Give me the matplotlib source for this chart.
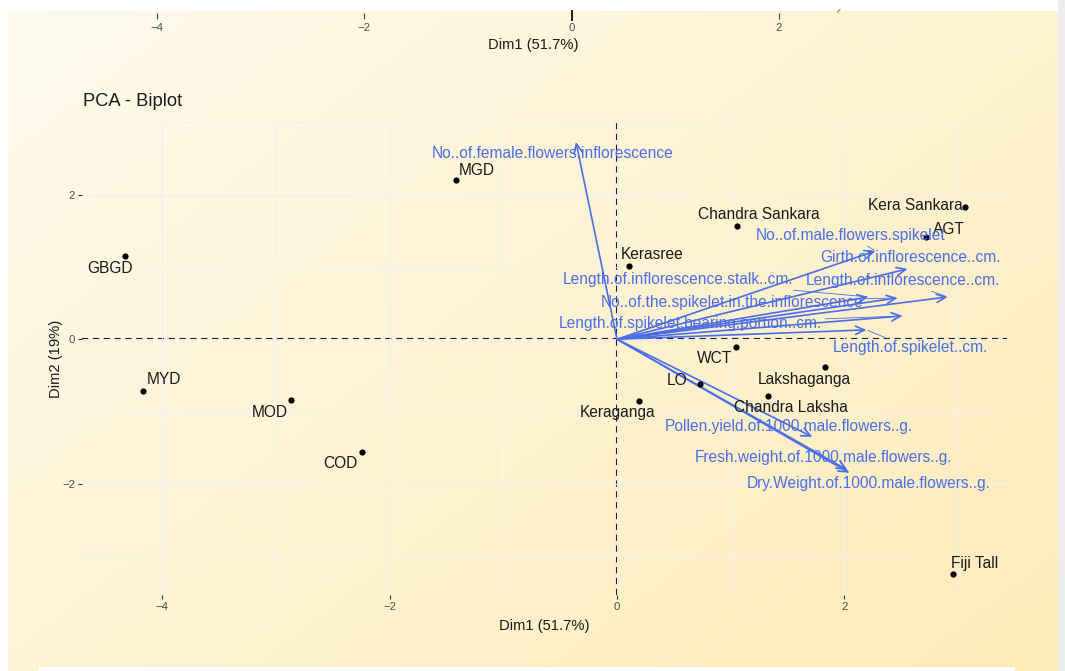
import numpy as np
import matplotlib
matplotlib.use("Agg")
import matplotlib.pyplot as plt
from matplotlib.patches import Rectangle

plt.rcParams['font.family'] = ['Liberation Sans', 'DejaVu Sans']

# ---------------- data ----------------
ind_names = ["MGD", "GBGD", "MYD", "MOD", "COD", "Kerasree", "Chandra Sankara",
             "Kera Sankara", "AGT", "WCT", "LO", "Lakshaganga", "Chandra Laksha",
             "Keraganga", "Fiji Tall"]
ind_dim1 = [-1.419, -4.33, -4.17, -2.863, -2.244, 0.106, 1.057,
            3.062, 2.714, 1.046, 0.731, 1.826, 1.328, 0.194, 2.952]
ind_dim2 = [2.20, 1.149, -0.711, -0.844, -1.564, 1.019, 1.568,
            1.835, 1.420, -0.113, -0.619, -0.379, -0.785, -0.850, -3.25]

var_names = ["No..of.female.flowers.inflorescence", "No..of.male.flowers.spikelet",
             "Girth.of.inflorescence..cm.", "Length.of.inflorescence.stalk..cm.",
             "Length.of.inflorescence..cm.", "No..of.the.spikelet.in.the.inflorescence",
             "Length.of.spikelet.bearing.portion..cm.", "Length.of.spikelet..cm.",
             "Pollen.yield.of.1000.male.flowers..g.", "Fresh.weight.of.1000.male.flowers..g.",
             "Dry.Weight.of.1000.male.flowers..g."]
var_dim1 = [-0.361, 2.273, 2.555, 2.211, 2.907, 2.467, 2.511, 2.194, 1.718, 2.026, 2.044]
var_dim2 = [2.73, 1.222, 0.973, 0.585, 0.585, 0.572, 0.322, 0.129, -1.352, -1.81, -1.85]

x_ticks = [-4, -2, 0, 2]
y_ticks = [-2, 0, 2]
x_title = "Dim1 (51.7%)"
y_title = "Dim2 (19%)"
plot_title = "PCA - Biplot"

# ---------------- layout / style (label offsets in pixels) ----------------
ind_offsets = [(21, 10), (-15, -12), (21, 11), (-22, -12), (-21, -11), (23, 11), (22, 11),
               (-50, 1), (23, 7), (-21, -11), (-23, 3), (-20, -13), (23, -12), (-21, -12), (22, 11)]
var_offsets = [(-23, -12), (-25, 15), (3, 11), (-190, 17), (-45, 16), (-165, -5),
               (-212, -8), (44, -18), (-24, 10), (-24, 12), (19, -11)]
var_segment = [False, True, False, True, True, True, True, True, False, False, False]

W, H = 1065, 671
fig = plt.figure(figsize=(W / 100, H / 100), dpi=100)

# background
bg = fig.add_axes([0, 0, 1, 1], zorder=-10)
bg.set_xlim(0, W)
bg.set_ylim(H, 0)
bg.axis('off')
c0 = np.array([254, 250, 236]) / 255
c1 = np.array([253, 235, 184]) / 255
u = np.linspace(0, 1, 200)[None, :]
v = np.linspace(0, 1, 130)[:, None]
t = np.clip(0.55 * u + 0.45 * v, 0, 1)
img = c0[None, None, :] * (1 - t[..., None]) + c1[None, None, :] * t[..., None]
bg.imshow(img, extent=[8, 1058, H, 11], aspect='auto', interpolation='bilinear', zorder=0)
bg.add_patch(Rectangle((1058, 0), 7, H, color='#ececec', zorder=1, lw=0))
bg.add_patch(Rectangle((39, 667), 976, 4, color='white', zorder=1, lw=0))
bg.plot([837.5, 840], [12, 9.5], color='#f08030', lw=1.0, zorder=2)

# stray axis of the plot above (cropped)
ax_top = fig.add_axes([8 / W, (H - 13) / H, 1050 / W, 2 / H])
px_per_unit = 103.6
ax_top.set_xlim(-4 - (157 - 8) / px_per_unit, 2 + (1058 - 779) / px_per_unit)
ax_top.set_ylim(0, 1)
ax_top.patch.set_alpha(0)
for s in ax_top.spines.values():
    s.set_visible(False)
ax_top.set_yticks([])
ax_top.set_xticks(x_ticks)
ax_top.tick_params(axis='x', which='major', length=4, width=0.8, color='#444444',
                   labelsize=8.2, labelcolor='#4d4d4d', pad=3)
ax_top.plot([0, 0], [1, -3.5], color='#222222', lw=1.4, clip_on=False)
ax_top.set_xlabel(x_title, fontsize=10.6, color='#1a1a1a', labelpad=4)

# main panel
left, right, top, bottom = 82, 1007, 122, 595
ax = fig.add_axes([left / W, (H - bottom) / H, (right - left) / W, (bottom - top) / H])
ax.patch.set_alpha(0)
ax.set_xlim(-4.705, 3.43)
ax.set_ylim(-3.54, 3.006)
for s in ax.spines.values():
    s.set_visible(False)
ax.set_xticks(x_ticks)
ax.set_yticks(y_ticks)
ax.set_xticks([-3, -1, 1, 3], minor=True)
ax.set_yticks([-3, -1, 1, 3], minor=True)
ax.grid(True, which='major', color='#eeeef3', lw=0.9, zorder=0)
ax.grid(True, which='minor', color='#f0f0f3', lw=0.6, zorder=0)
ax.tick_params(axis='both', which='major', length=3, width=0.8, color='#333333',
               labelsize=8.2, labelcolor='#4d4d4d', pad=2)
ax.tick_params(axis='both', which='minor', length=0)
ax.set_xlabel(x_title, fontsize=10.6, color='#1a1a1a', labelpad=5)
ax.set_ylabel(y_title, fontsize=10.6, color='#1a1a1a', labelpad=-1)

ax.axhline(0, color='black', lw=1.5, ls=(0, (3, 2.2)), zorder=1)
ax.axvline(0, color='black', lw=1.5, ls=(0, (3, 2.2)), zorder=1)

# individuals
ax.scatter(ind_dim1, ind_dim2, s=20, color='black', zorder=3, linewidths=0)
for name, x, y, (dx, dy) in zip(ind_names, ind_dim1, ind_dim2, ind_offsets):
    ax.annotate(name, xy=(x, y), xytext=(dx, dy), textcoords='offset pixels',
                ha='center', va='center', fontsize=11.2, color='#1a1a1a', zorder=4)

# variables
blue = '#4a6ee8'
for name, x, y, (dx, dy), seg in zip(var_names, var_dim1, var_dim2, var_offsets, var_segment):
    ax.annotate('', xy=(x, y), xytext=(0, 0), xycoords='data', textcoords='data',
                arrowprops=dict(arrowstyle='->,head_length=0.65,head_width=0.3',
                                color=blue, lw=1.2, shrinkA=0, shrinkB=0,
                                mutation_scale=10), zorder=2)
    props = None
    if seg:
        props = dict(arrowstyle='-', color=blue, lw=0.6, shrinkA=0, shrinkB=1)
    ax.annotate(name, xy=(x, y), xytext=(dx, dy), textcoords='offset pixels',
                ha='center', va='center', fontsize=11.2, color=blue, zorder=5,
                arrowprops=props)

fig.text(83 / W, 1 - 102 / H, plot_title, ha='left', va='center', fontsize=13.2,
         color='#1a1a1a')

fig.savefig('out.png', dpi=100)
